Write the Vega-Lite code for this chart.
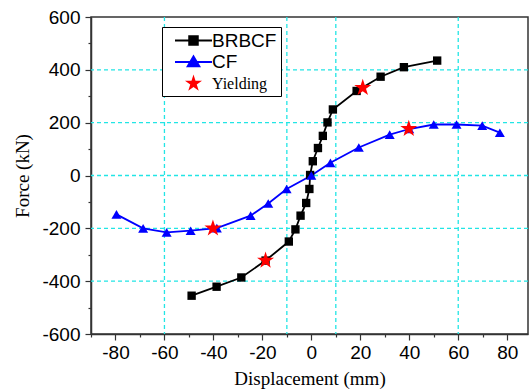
{
  "$schema": "https://vega.github.io/schema/vega-lite/v6.json",
  "width": 437,
  "height": 317,
  "autosize": {"type": "none"},
  "padding": {"left": 91, "top": 17, "right": 3, "bottom": 58},
  "background": "white",
  "config": {
    "locale": {"number": {"decimal": ".", "thousands": ",", "grouping": [3], "currency": ["$", ""], "minus": "-"}},
    "view": {"stroke": "#333", "strokeWidth": 1.5},
    "axis": {
      "domainColor": "#333", "domainWidth": 1.5, "tickColor": "#333", "tickWidth": 1.2,
      "labelColor": "black", "titleColor": "black",
      "labelFont": "Liberation Sans", "labelFontSize": 19,
      "titleFont": "Liberation Serif", "titleFontSize": 19, "titleFontWeight": "normal",
      "grid": false, "labelOverlap": false, "labelFlush": false, "tickSize": 6
    }
  },
  "resolve": {"axis": {"x": "independent", "y": "independent"}},
  "datasets": {
    "curves": [
      {"series": "BRBCF", "disp": -48.9, "force": -455},
      {"series": "BRBCF", "disp": -38.7, "force": -421},
      {"series": "BRBCF", "disp": -28.6, "force": -386},
      {"series": "BRBCF", "disp": -18.7, "force": -322},
      {"series": "BRBCF", "disp": -9.2, "force": -250},
      {"series": "BRBCF", "disp": -6.5, "force": -204},
      {"series": "BRBCF", "disp": -4.4, "force": -152},
      {"series": "BRBCF", "disp": -2.1, "force": -104},
      {"series": "BRBCF", "disp": -0.8, "force": -51},
      {"series": "BRBCF", "disp": -0.5, "force": 2},
      {"series": "BRBCF", "disp": 0.6, "force": 54},
      {"series": "BRBCF", "disp": 2.7, "force": 104},
      {"series": "BRBCF", "disp": 4.7, "force": 150},
      {"series": "BRBCF", "disp": 6.6, "force": 201},
      {"series": "BRBCF", "disp": 8.8, "force": 250},
      {"series": "BRBCF", "disp": 18.5, "force": 320},
      {"series": "BRBCF", "disp": 28.3, "force": 374},
      {"series": "BRBCF", "disp": 37.8, "force": 410},
      {"series": "BRBCF", "disp": 51.4, "force": 435},
      {"series": "CF", "disp": -79.6, "force": -147},
      {"series": "CF", "disp": -68.7, "force": -200},
      {"series": "CF", "disp": -59.1, "force": -215},
      {"series": "CF", "disp": -49.3, "force": -209},
      {"series": "CF", "disp": -38.6, "force": -199},
      {"series": "CF", "disp": -24.8, "force": -152},
      {"series": "CF", "disp": -17.6, "force": -106},
      {"series": "CF", "disp": -10.1, "force": -51},
      {"series": "CF", "disp": 0, "force": 0},
      {"series": "CF", "disp": 7.8, "force": 48},
      {"series": "CF", "disp": 19.4, "force": 106},
      {"series": "CF", "disp": 32, "force": 155},
      {"series": "CF", "disp": 40, "force": 176},
      {"series": "CF", "disp": 50, "force": 193},
      {"series": "CF", "disp": 59.3, "force": 193},
      {"series": "CF", "disp": 69.8, "force": 189},
      {"series": "CF", "disp": 77, "force": 162}
    ],
    "stars": [
      {"series": "Yielding", "disp": -40.2, "force": -200},
      {"series": "Yielding", "disp": -18.7, "force": -322},
      {"series": "Yielding", "disp": 21, "force": 332},
      {"series": "Yielding", "disp": 39.8, "force": 177}
    ],
    "gridx": [{"g": -60}, {"g": -10}, {"g": 10}, {"g": 60}],
    "gridy": [{"g": -400}, {"g": -200}, {"g": 0}, {"g": 200}, {"g": 400}]
  },
  "layer": [
    {
      "data": {"name": "gridx"},
      "mark": {"type": "rule", "color": "#22e5e5", "strokeWidth": 1.3, "strokeDash": [4, 3]},
      "encoding": {
        "x": {
          "field": "g", "type": "quantitative",
          "scale": {"domain": [-90, 88.5], "nice": false, "zero": false},
          "axis": {"orient": "bottom", "values": [-90, -70, -50, -30, -10, 10, 30, 50, 70], "labels": false, "tickSize": 3, "domain": false, "title": null}
        }
      }
    },
    {
      "data": {"name": "gridy"},
      "mark": {"type": "rule", "color": "#22e5e5", "strokeWidth": 1.3, "strokeDash": [4, 3]},
      "encoding": {
        "y": {
          "field": "g", "type": "quantitative",
          "scale": {"domain": [-600, 600], "nice": false},
          "axis": {"orient": "left", "values": [-500, -300, -100, 100, 300, 500], "labels": false, "tickSize": 3, "domain": false, "title": null}
        }
      }
    },
    {
      "data": {"name": "curves"},
      "mark": {"type": "line", "strokeWidth": 1.8},
      "encoding": {
        "x": {
          "field": "disp", "type": "quantitative",
          "axis": {
            "orient": "bottom",
            "title": "Displacement (mm)",
            "values": [-80, -60, -40, -20, 0, 20, 40, 60, 80],
            "format": "d",
            "labelPadding": 3, "titlePadding": 7
          }
        },
        "y": {
          "field": "force", "type": "quantitative",
          "axis": {
            "orient": "left",
            "title": "Force (kN)",
            "values": [-600, -400, -200, 0, 200, 400, 600],
            "format": "d",
            "labelPadding": 5, "titlePadding": 9
          }
        },
        "color": {
          "field": "series", "type": "nominal",
          "scale": {"domain": ["BRBCF", "CF", "Yielding"], "range": ["#000000", "#0000ff", "#ff0000"]},
          "legend": {
            "title": null,
            "orient": "none", "legendX": 71, "legendY": 10,
            "strokeColor": "black", "fillColor": "white", "padding": 4,
            "labelFont": "Liberation Sans", "labelFontSize": 19, "labelColor": "black",
            "symbolSize": 100, "symbolStrokeWidth": 2, "symbolOffset": 18, "labelOffset": 9,
            "rowPadding": 1.5,
            "encode": {
              "symbols": {
                "update": {
                  "shape": {"signal": "datum.value === 'BRBCF' ? 'M-3.7,0H3.7M-0.85,-0.85H0.85V0.85H-0.85Z' : datum.value === 'CF' ? 'M-3.7,0H3.7M0,-1.1L1.15,0.85H-1.15Z' : 'M0,-1L0.225,-0.309L0.951,-0.309L0.363,0.118L0.588,0.809L0,0.382L-0.588,0.809L-0.363,0.118L-0.951,-0.309L-0.225,-0.309Z'"},
                  "size": {"signal": "datum.value === 'Yielding' ? 320 : 100"},
                  "fill": {"scale": "color", "field": "value"},
                  "stroke": {"scale": "color", "field": "value"},
                  "strokeWidth": {"signal": "datum.value === 'Yielding' ? 0 : 2"},
                  "opacity": {"value": 1}
                }
              },
              "labels": {
                "update": {
                  "font": {"signal": "datum.label === 'Yielding' ? 'Liberation Serif' : 'Liberation Sans'"},
                  "fontSize": {"signal": "datum.label === 'Yielding' ? 16 : 19"}
                }
              }
            }
          }
        }
      }
    },
    {
      "data": {"name": "curves"},
      "transform": [{"filter": "datum.series === 'BRBCF'"}],
      "mark": {"type": "point", "shape": "square", "filled": true, "size": 70, "opacity": 1},
      "encoding": {
        "x": {"field": "disp", "type": "quantitative", "axis": null},
        "y": {"field": "force", "type": "quantitative", "axis": null},
        "color": {"field": "series", "type": "nominal"}
      }
    },
    {
      "data": {"name": "curves"},
      "transform": [{"filter": "datum.series === 'CF'"}],
      "mark": {"type": "point", "shape": "triangle-up", "filled": true, "size": 100, "opacity": 1},
      "encoding": {
        "x": {"field": "disp", "type": "quantitative", "axis": null},
        "y": {"field": "force", "type": "quantitative", "axis": null},
        "color": {"field": "series", "type": "nominal"}
      }
    },
    {
      "data": {"name": "stars"},
      "mark": {"type": "point", "shape": "M0,-1L0.225,-0.309L0.951,-0.309L0.363,0.118L0.588,0.809L0,0.382L-0.588,0.809L-0.363,0.118L-0.951,-0.309L-0.225,-0.309Z", "filled": true, "size": 320, "opacity": 1},
      "encoding": {
        "x": {"field": "disp", "type": "quantitative", "axis": null},
        "y": {"field": "force", "type": "quantitative", "axis": null},
        "color": {"field": "series", "type": "nominal"}
      }
    }
  ]
}
